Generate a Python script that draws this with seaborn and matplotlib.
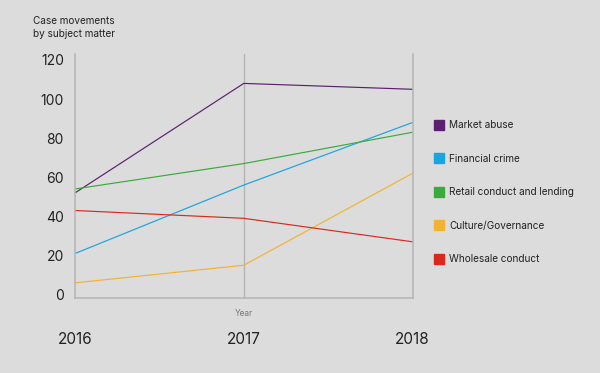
import pandas as pd
import matplotlib.pyplot as plt
import seaborn as sns
from matplotlib.lines import Line2D
from matplotlib.transforms import blended_transform_factory

# Data
years = [2016, 2017, 2018]
market_abuse = [52, 108, 105]
financial_crime = [21, 56, 88]
retail_conduct = [54, 67, 83]
culture_governance = [6, 15, 62]
wholesale_conduct = [43, 39, 27]

series_names = ['Market abuse', 'Financial crime', 'Retail conduct and lending',
                'Culture/Governance', 'Wholesale conduct']
series_values = [market_abuse, financial_crime, retail_conduct,
                 culture_governance, wholesale_conduct]
colors = ['#5b1f6f', '#1ba3e2', '#3aab3a', '#f2b233', '#d9291e']

rows = []
for name, vals in zip(series_names, series_values):
    for y, v in zip(years, vals):
        rows.append({'Year': y, 'Cases': v, 'Subject': name})
df = pd.DataFrame(rows)

bg = '#dcdcdc'
grid_col = '#b4b4b4'

sns.set_theme(style='white')
plt.rcParams['font.family'] = ['Inter', 'DejaVu Sans']

fig = plt.figure(figsize=(6, 3.73), dpi=100, facecolor=bg)
ax = fig.add_axes([0.125, 0.2024, 0.5625, 0.6526])
ax.set_facecolor(bg)

sns.lineplot(data=df, x='Year', y='Cases', hue='Subject', hue_order=series_names,
             palette=colors, linewidth=0.85, legend=False, ax=ax)

ax.set_xlim(2016, 2018)
ax.set_ylim(-1.5, 123)
ax.set_xticks(years)
ax.set_xticklabels([str(y) for y in years], fontsize=11, color='#222222')
ax.set_yticks([0, 20, 40, 60, 80, 100, 120])
ax.tick_params(axis='x', length=0, pad=24.5)
ax.tick_params(axis='y', length=0, pad=8, labelsize=10, labelcolor='#222222')
ax.set_xlabel('')
ax.set_ylabel('')

# vertical line at the middle year
ax.axvline(2017, color=grid_col, linewidth=1, zorder=0)
for side in ['left', 'right', 'bottom']:
    ax.spines[side].set_color(grid_col)
    ax.spines[side].set_linewidth(1.1)
ax.spines['top'].set_visible(False)

trans = blended_transform_factory(ax.transData, ax.transAxes)
ax.text(2017, -0.065, 'Year', transform=trans, ha='center', va='center',
        fontsize=6, color='#777777')

fig.text(33 / 600, 1 - 16 / 373, 'Case movements\nby subject matter', ha='left',
         va='top', fontsize=7.2, color='#222222', linespacing=1.35)

handles = [Line2D([], [], marker='s', linestyle='', markersize=6.5,
                  markerfacecolor=c, markeredgecolor=c) for c in colors]
fig.legend(handles, series_names, loc='upper left',
           bbox_to_anchor=(430 / 600, 1 - 115.5 / 373), frameon=False,
           fontsize=7.2, labelspacing=2.34, handlelength=0.8,
           handletextpad=0.6, borderpad=0, labelcolor='#222222')

fig.savefig('out.png', dpi=100, facecolor=bg)
